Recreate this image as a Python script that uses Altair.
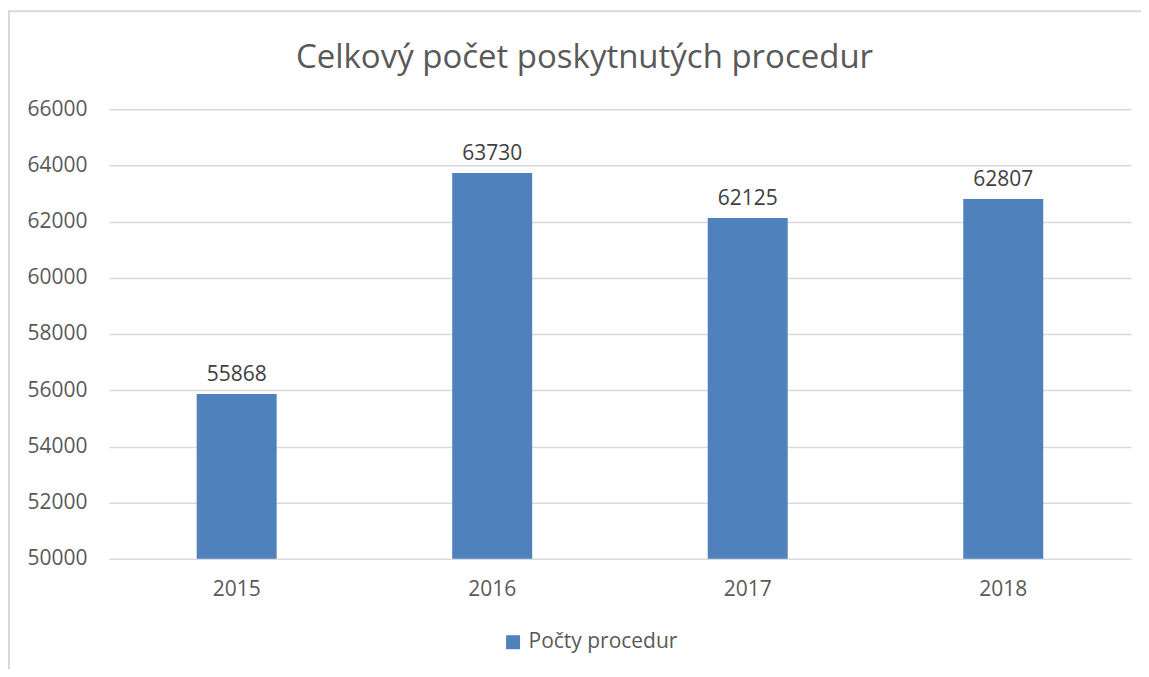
import altair as alt
import pandas as pd

years = ["2015", "2016", "2017", "2018"]
values = [55868, 63730, 62125, 62807]
series = ["Počty procedur"] * 4
y_ticks = [50000, 52000, 54000, 56000, 58000, 60000, 62000, 64000, 66000]
title_text = ["Celkový počet poskytnutých procedur"]

df = pd.DataFrame({"rok": years, "pocet": values, "serie": series})

FONT = "Open Sans"
TXT = "#595959"
BLUE = "#4F81BD"

base = alt.Chart(df)

bars = base.mark_bar(color=BLUE).encode(
    x=alt.X("rok:N", title=None, sort=years,
            scale=alt.Scale(paddingInner=0.687, paddingOuter=0.3435),
            axis=alt.Axis(labelAngle=0, ticks=False, domain=False, labelPadding=20,
                          labelFontSize=21, labelColor=TXT, labelFont=FONT)),
    y=alt.Y("pocet:Q", title=None,
            scale=alt.Scale(domain=[50000, 66000], nice=False, zero=False),
            axis=alt.Axis(values=y_ticks, format="d", ticks=False, domain=False,
                          labelPadding=22, labelFontSize=21, labelColor=TXT, labelFont=FONT,
                          gridColor="#D9D9D9", gridWidth=1.5)),
    y2=alt.datum(50000),
    color=alt.Color("serie:N", title=None,
                    scale=alt.Scale(range=[BLUE]),
                    legend=alt.Legend(orient="none", legendX=394, legendY=523,
                                      symbolType="square", symbolSize=196,
                                      symbolStrokeWidth=0, labelFontSize=21,
                                      labelColor=TXT, labelFont=FONT, padding=0,
                                      labelOffset=5)),
)

labels = base.mark_text(baseline="bottom", dy=-9, fontSize=21, color="#404040", font=FONT).encode(
    x=alt.X("rok:N", sort=years),
    y=alt.Y("pocet:Q"),
    text=alt.Text("pocet:Q", format="d"),
)

one = pd.DataFrame({"k": [0]})
frame_top = alt.Chart(one).mark_rule(stroke="#D9D9D9", strokeWidth=2, clip=False).encode(
    x=alt.value(-101), x2=alt.value(1200), y=alt.value(-98),
)
frame_left = alt.Chart(one).mark_rule(stroke="#D9D9D9", strokeWidth=2, clip=False).encode(
    x=alt.value(-100), y=alt.value(-99), y2=alt.value(700),
)

title = alt.Chart(pd.DataFrame({"t": title_text})).mark_text(
    fontSize=33, font=FONT, color=TXT, baseline="middle", align="center"
).encode(
    x=alt.value(476), y=alt.value(-51), text="t:N",
)

chart = alt.layer(frame_top, frame_left, bars, labels, title).properties(
    width=1023, height=450,
    padding={"left": 101, "top": 101, "right": 10, "bottom": 110},
    autosize=alt.AutoSizeParams(type="none"),
).configure_view(stroke=None)

chart.save("out.html", embed_options={"renderer": "svg", "actions": False})
